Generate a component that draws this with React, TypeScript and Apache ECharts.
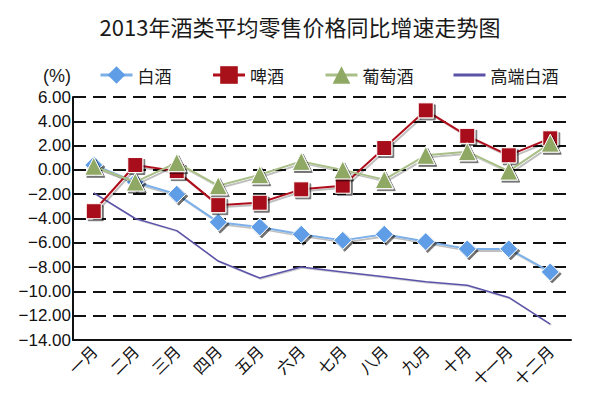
import React, { useEffect, useRef } from "react";
import * as echarts from "echarts";

const months = ["一月", "二月", "三月", "四月", "五月", "六月", "七月", "八月", "九月", "十月", "十一月", "十二月"];
const baijiu = [0.4, -1.0, -2.0, -4.3, -4.7, -5.3, -5.8, -5.3, -5.9, -6.5, -6.5, -8.4];
const pijiu = [-3.4, 0.4, -0.1, -2.9, -2.7, -1.6, -1.3, 1.8, 4.9, 2.8, 1.2, 2.6];
const putaojiu = [0.3, -1.0, 0.6, -1.3, -0.4, 0.7, 0.0, -0.8, 1.2, 1.5, -0.1, 2.2];
const gaoduan = [-1.9, -4.0, -5.0, -7.5, -8.9, -8.0, -8.4, -8.8, -9.2, -9.5, -10.5, -12.7];

const FONT = "'Noto Sans CJK SC', 'Noto Sans', sans-serif";

export default function App() {
  const ref = useRef<HTMLDivElement>(null);
  useEffect(() => {
    if (!ref.current) return;
    const chart = echarts.init(ref.current, null, { renderer: "svg" });
    const shadow = {
      shadowColor: "rgba(0,0,0,0.55)",
      shadowOffsetX: 2,
      shadowOffsetY: 2,
      shadowBlur: 1,
    };
    chart.setOption({
      animation: false,
      backgroundColor: "#fff",
      title: {
        text: "2013年酒类平均零售价格同比增速走势图",
        left: "center",
        top: 10,
        textStyle: { fontFamily: FONT, fontSize: 22, fontWeight: "normal", color: "#1a1a1a" },
      },
      legend: {
        top: 59,
        left: 94,
        itemWidth: 32,
        itemHeight: 22,
        itemGap: 40,
        itemStyle: { borderWidth: 0, shadowColor: "transparent", shadowBlur: 0, shadowOffsetX: 0, shadowOffsetY: 0 },
        lineStyle: { width: 3, shadowColor: "transparent", shadowBlur: 0, shadowOffsetX: 0, shadowOffsetY: 0 },
        textStyle: { fontFamily: FONT, fontSize: 17, color: "#1a1a1a" },
        data: [
          { name: "白酒" },
          { name: "啤酒" },
          { name: "葡萄酒" },
          {
            name: "高端白酒",
            icon: "path://M0,0 L0,0.01 M0,9.6 L32,9.6 L32,12.4 L0,12.4 Z M32,22 L32,22.01",
          },
        ],
      },
      graphic: [
        {
          type: "text",
          left: 43,
          top: 67,
          style: { text: "(%)", font: "18px 'Liberation Sans', Arial, sans-serif", fill: "#1a1a1a" },
        },
      ],
      grid: { left: 73, right: 29, top: 97, bottom: 55 },
      xAxis: {
        type: "category",
        data: months,
        boundaryGap: true,
        axisLine: { onZero: false, lineStyle: { color: "#111", width: 2 } },
        axisTick: { show: false },
        axisLabel: { rotate: 45, fontFamily: FONT, fontSize: 16, color: "#111", margin: 8 },
      },
      yAxis: {
        type: "value",
        min: -14,
        max: 6,
        interval: 2,
        axisLine: { show: true, lineStyle: { color: "#111", width: 2 } },
        axisTick: { show: false },
        axisLabel: {
          fontFamily: "'Liberation Sans', Arial, sans-serif",
          fontSize: 17,
          color: "#111",
          margin: 2,
          formatter: (v: number) => v.toFixed(2).replace("-", "\u2212"),
        },
        splitLine: {
          lineStyle: { color: "#111", width: 2, type: [13, 7] },
        },
      },
      series: [
        {
          name: "白酒",
          type: "line",
          data: baijiu,
          symbol: "diamond",
          symbolSize: 18,
          lineStyle: { color: "#7db0e8", width: 2, ...shadow, shadowColor: "rgba(0,0,0,0.25)" },
          itemStyle: { color: "#5f9de6", borderColor: "#fff", borderWidth: 1, ...shadow },
          z: 3,
        },
        {
          name: "啤酒",
          type: "line",
          data: pijiu,
          symbol: "rect",
          symbolSize: 15,
          lineStyle: { color: "#b0101c", width: 2, ...shadow, shadowColor: "rgba(0,0,0,0.25)" },
          itemStyle: { color: "#a8101a", borderColor: "#fff", borderWidth: 1, ...shadow },
          z: 4,
        },
        {
          name: "葡萄酒",
          type: "line",
          data: putaojiu,
          symbol: "triangle",
          symbolSize: 18,
          lineStyle: { color: "#a9bf88", width: 2, ...shadow, shadowColor: "rgba(0,0,0,0.25)" },
          itemStyle: { color: "#8fa864", borderColor: "#fff", borderWidth: 1, ...shadow },
          z: 5,
        },
        {
          name: "高端白酒",
          type: "line",
          data: gaoduan,
          symbol: "none",
          showSymbol: false,
          lineStyle: { color: "#5a53a8", width: 1.5, ...shadow, shadowColor: "rgba(0,0,0,0.2)", shadowOffsetX: 1, shadowOffsetY: 1 },
          itemStyle: { color: "#5a53a8" },
          z: 2,
        },
      ],
    });
    return () => chart.dispose();
  }, []);
  return <div ref={ref} style={{ width: 600, height: 395, margin: -8 }} />;
}
